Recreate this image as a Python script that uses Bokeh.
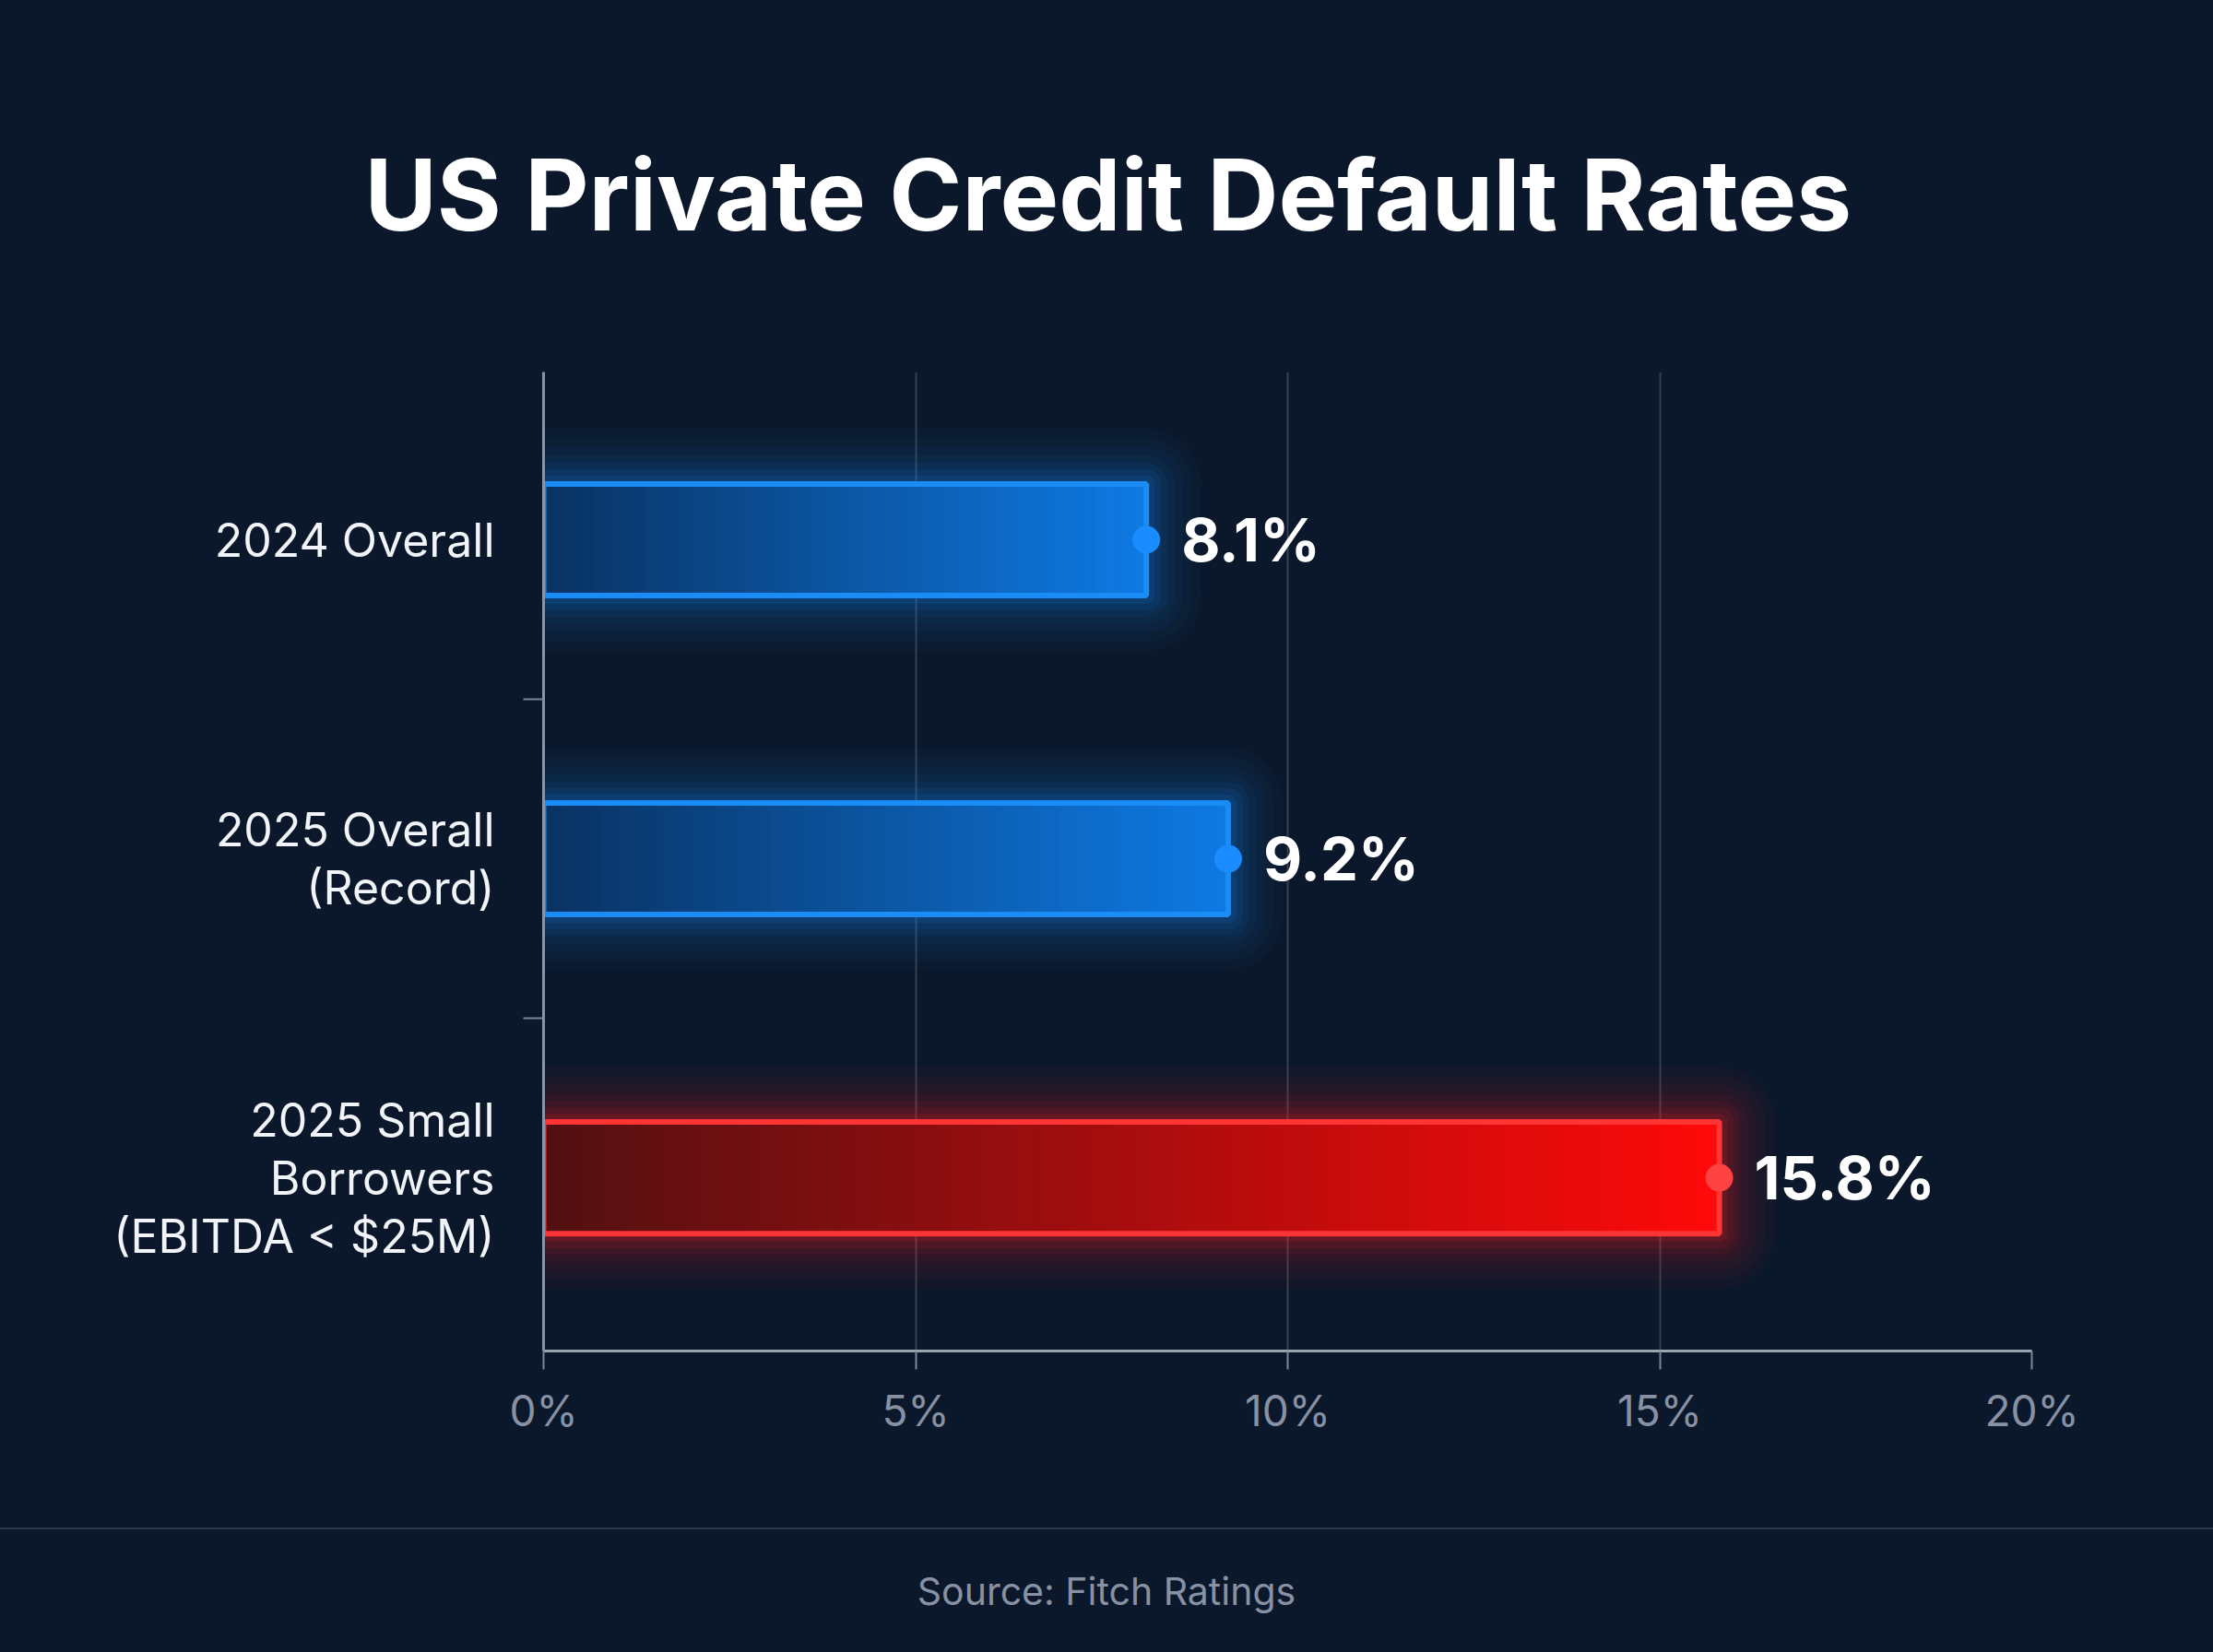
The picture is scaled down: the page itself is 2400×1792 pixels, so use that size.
import numpy as np
from bokeh.plotting import figure
from bokeh.models import Range1d, FixedTicker, PrintfTickFormatter, Div, ColumnDataSource
from bokeh.layouts import column
from bokeh.embed import file_html
from bokeh.resources import INLINE
from bokeh.core.properties import value

# ---------------- data ----------------
categories = ["2024 Overall", "2025 Overall\n(Record)", "2025 Small\nBorrowers\n(EBITDA < $25M)"]
rates = [8.1, 9.2, 15.8]
highlight = [False, False, True]
x_ticks = [0, 5, 10, 15, 20]
title_text = "US Private Credit Default Rates"
source_text = "Source: Fitch Ratings"

# ---------------- style ----------------
BG = "#0b182b"
FONT = "Inter"
BLUE0, BLUE1 = (9, 50, 98), (14, 122, 228)
RED0, RED1 = (82, 16, 18), (255, 10, 10)
BLUE_LINE, RED_LINE = "#1a8cf5", "#ff3434"
BLUE_DOT, RED_DOT = "#1a8cff", "#ff4242"
GRID = "#343f51"
MUTED = "#8791a3"
W, H_MAIN, H_FOOT = 2400, 1657, 135
BAR_H = 0.35
FRAME_LEFT = 589

pos = list(range(len(categories)))


def lerp(c0, c1, t):
    r, g, b = (int(round(a + (bb - a) * t)) for a, bb in zip(c0, c1))
    return "#%02x%02x%02x" % (r, g, b)


p = figure(width=W, height=H_MAIN, output_backend="svg", toolbar_location=None,
           x_range=Range1d(0, 20), y_range=Range1d(len(categories) - 1 + 0.543, -0.526),
           min_border_left=FRAME_LEFT, min_border_right=197, min_border_top=403,
           min_border_bottom=192,
           background_fill_color=BG, border_fill_color=BG, outline_line_color=None)

# title, positioned so that it is centred on the canvas
p.title.text = title_text
p.title.align = "left"
p.title.offset = 395 - FRAME_LEFT
p.title.standoff = 256
p.title.text_font = FONT
p.title.text_font_style = "bold"
p.title.text_font_size = "107px"
p.title.text_color = "#ffffff"

# glow layers
glow_cols = ["#ff1e1e" if h else "#1683f0" for h in highlight]
for w, a in [(120, 0.03), (100, 0.035), (80, 0.045), (62, 0.055), (46, 0.07), (32, 0.09), (18, 0.12)]:
    p.hbar(y=pos, left=0, right=rates, height=BAR_H, fill_color=None,
           line_color=glow_cols, line_alpha=a, line_width=w, line_join="round")

# gradient fill (slices of each bar)
N = 60
seg = dict(y=[], left=[], right=[], color=[])
for yi, v, h in zip(pos, rates, highlight):
    c0, c1 = (RED0, RED1) if h else (BLUE0, BLUE1)
    for i in range(N):
        seg["y"].append(yi)
        seg["left"].append(v * i / N)
        seg["right"].append(min(v, v * (i + 1.6) / N))
        seg["color"].append(lerp(c0, c1, (i + 0.5) / N))
p.hbar(y="y", left="left", right="right", height=BAR_H, fill_color="color",
       line_color=None, source=ColumnDataSource(seg))

# outline
p.hbar(y=pos, left=0, right=rates, height=BAR_H, fill_color=None,
       line_color=[RED_LINE if h else BLUE_LINE for h in highlight], line_width=6)

# end dots
p.scatter(x=rates, y=pos, size=30, fill_color=[RED_DOT if h else BLUE_DOT for h in highlight],
          line_color=None)

# value labels
p.text(x=rates, y=pos, text=[f"{v}%" for v in rates], x_offset=38, text_align="left",
       text_baseline="middle", text_font=value(FONT), text_font_style="bold",
       text_font_size="65px", text_color="#ffffff")

# axes
xa = p.xaxis[0]
xa.ticker = FixedTicker(ticks=x_ticks)
xa.formatter = PrintfTickFormatter(format="%d%%")
xa.major_label_text_font = FONT
xa.major_label_text_font_size = "46px"
xa.major_label_text_color = MUTED
xa.major_label_standoff = 16
xa.major_tick_out = 20
xa.major_tick_in = 0
xa.major_tick_line_color = "#7c8698"
xa.major_tick_line_width = 2
xa.minor_tick_line_color = None
xa.axis_line_color = "#9aa3b2"
xa.axis_line_width = 3

ya = p.yaxis[0]
ya.ticker = FixedTicker(ticks=pos, minor_ticks=[i + 0.5 for i in pos[:-1]])
ya.major_label_overrides = {i: c for i, c in zip(pos, categories)}
ya.major_label_text_font = FONT
ya.major_label_text_font_size = "50px"
ya.major_label_text_color = "#f1f4f8"
ya.major_label_text_line_height = 1.05
ya.major_label_standoff = 31
ya.major_tick_out = 0
ya.major_tick_in = 0
ya.major_tick_line_color = None
ya.minor_tick_out = 22
ya.minor_tick_in = 0
ya.minor_tick_line_color = "#7c8698"
ya.minor_tick_line_width = 2
ya.axis_line_color = "#8a94a4"
ya.axis_line_width = 3

p.xgrid.ticker = FixedTicker(ticks=x_ticks)
p.xgrid.grid_line_color = GRID
p.xgrid.grid_line_width = 2
p.ygrid.grid_line_color = None

# footer: separator + source
footer = Div(text=source_text, width=W, height=H_FOOT,
             styles={"box-sizing": "border-box", "border-top": "2px solid #2c3748",
                     "background-color": BG, "color": MUTED, "font-family": "Inter",
                     "font-size": "41px", "line-height": "41px", "text-align": "center",
                     "padding-top": "47px", "margin": "0"})

root = column(p, footer, spacing=0, styles={"background-color": BG})

open("out.html", "w").write(file_html(root, INLINE))
